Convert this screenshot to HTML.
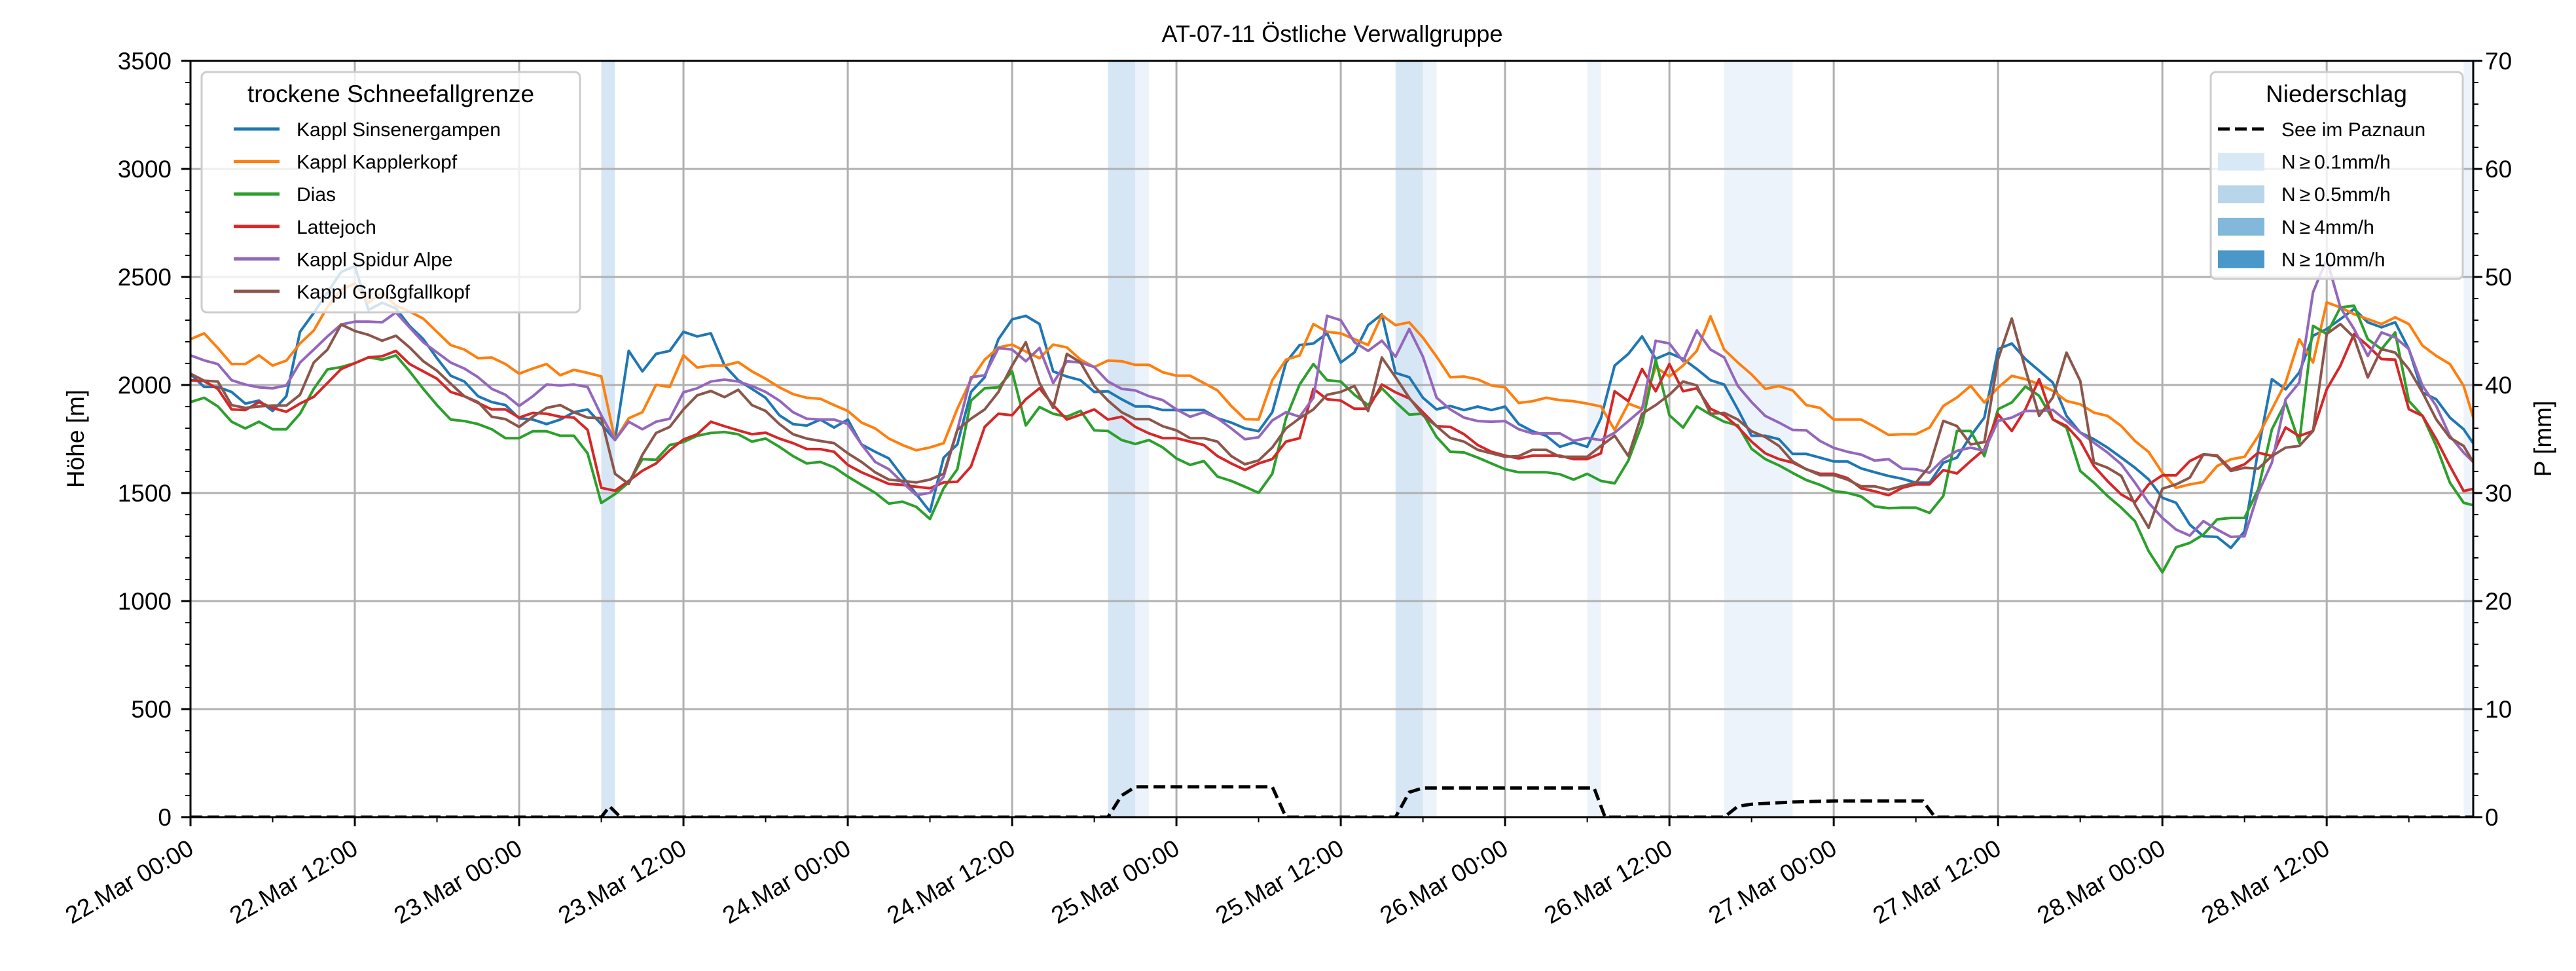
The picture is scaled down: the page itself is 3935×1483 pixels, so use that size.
<!DOCTYPE html>
<html><head><meta charset="utf-8">
<style>
html,body{margin:0;padding:0;background:#fff;}
svg{display:block;font-family:"Liberation Sans","DejaVu Sans",sans-serif;}
</style></head>
<body>
<svg id="chart" width="3935" height="1483" viewBox="0 0 3935 1483" xmlns="http://www.w3.org/2000/svg">
<defs><clipPath id="plotclip"><rect x="291" y="93" width="3487" height="1155"/></clipPath></defs>
<rect x="0" y="0" width="3935" height="1483" fill="#fff"/>
<text x="2035" y="64" font-size="36" text-anchor="middle">AT-07-11 Östliche Verwallgruppe</text>
<g id="bands" clip-path="url(#plotclip)"></g>
<g id="grid"></g>
<g id="series" clip-path="url(#plotclip)"></g>
<g id="axes"></g>
<g id="legends"></g>
</svg>
<script>
// ---- data ----
const seriesNames = ["Kappl Sinsenergampen","Kappl Kapplerkopf","Dias","Lattejoch","Kappl Spidur Alpe","Kappl Großgfallkopf"];
const seriesColors = ["#1f77b4","#ff7f0e","#2ca02c","#d62728","#9467bd","#8c564b"];
const sBlue = [2050,1991,1991,1968,1914,1928,1880,1948,2246,2334,2428,2523,2550,2347,2381,2354,2273,2212,2124,2043,2016,1948,1921,1907,1846,1840,1819,1840,1874,1887,1819,1745,2158,2063,2144,2158,2246,2225,2239,2090,2022,1982,
1941,1860,1819,1812,1840,1803,1840,1725,1691,1660,1576,1495,1414,1664,1725,1968,2036,2212,2304,2320,2282,2063,2039,2022,1968,1971,1934,1901,1901,1884,1884,1884,1884,1846,1826,1799,1786,1874,2104,2185,2192,2239,
2104,2151,2277,2327,2056,2036,1941,1887,1903,1884,1900,1884,1900,1819,1786,1765,1714,1734,1714,1846,2090,2144,2225,2121,2148,2121,2074,2022,2002,1887,1765,1765,1749,1681,1681,1664,1646,1646,1614,1596,1579,
1566,1548,1548,1640,1664,1764,1849,2166,2192,2120,2066,2011,1857,1780,1749,1710,1664,1617,1563,1478,1455,1354,1300,1297,1246,1323,1700,2027,1980,2058,2228,2259,2305,2352,2290,2267,2290,2166,1965,1934,1849,1795,1702];
const sOrange = [2212,2239,2171,2097,2097,2137,2090,2113,2192,2252,2361,2442,2469,2381,2428,2367,2340,2307,2246,2185,2164,2124,2127,2097,2052,2076,2097,2045,2070,2056,2040,1745,1846,1874,2001,1991,2137,2081,2090,2090,2106,2063,
2029,1989,1958,1941,1936,1907,1880,1826,1799,1752,1722,1698,1711,1731,1890,2025,2117,2174,2187,2155,2124,2187,2174,2117,2083,2113,2110,2093,2093,2059,2043,2043,2009,1975,1903,1842,1840,2022,2117,2137,2282,2246,
2239,2212,2185,2323,2277,2290,2219,2131,2036,2039,2026,1998,1989,1917,1925,1941,1930,1925,1914,1901,1792,1914,1890,2083,2039,2090,2158,2318,2164,2104,2049,1982,1995,1975,1907,1894,1840,1840,1840,1806,1769,
1772,1772,1803,1903,1942,1996,1919,1988,2042,2027,2004,1973,1926,1911,1872,1857,1810,1741,1690,1594,1524,1540,1551,1625,1656,1668,1764,1888,2011,2212,2104,2382,2359,2328,2305,2282,2313,2282,2182,2135,2097,1996,1787];
const sGreen = [1921,1941,1901,1830,1799,1830,1795,1795,1867,1982,2072,2083,2101,2128,2117,2137,2063,1982,1907,1840,1833,1819,1795,1754,1754,1786,1786,1765,1765,1684,1454,1495,1549,1657,1654,1722,1736,1765,1778,1782,1772,1738,
1752,1714,1671,1637,1644,1619,1576,1538,1501,1451,1460,1436,1380,1522,1610,1928,1985,1989,2063,1813,1898,1867,1853,1880,1790,1787,1745,1727,1745,1711,1660,1630,1648,1576,1556,1529,1501,1589,1846,2002,2097,2022,
2016,1955,1907,1985,1921,1863,1867,1759,1691,1688,1664,1637,1610,1596,1596,1596,1587,1562,1589,1556,1545,1650,1819,2117,1860,1803,1901,1863,1830,1813,1705,1657,1628,1593,1560,1538,1509,1501,1484,1438,1430,
1432,1432,1408,1486,1787,1787,1671,1888,1919,1993,1950,1841,1803,1602,1548,1486,1432,1370,1231,1133,1249,1269,1308,1378,1385,1385,1517,1795,1919,1733,2274,2236,2359,2367,2212,2166,2243,1926,1857,1718,1548,1455,1439];
const sRed = [2022,2018,1982,1887,1884,1921,1894,1876,1914,1945,2009,2074,2101,2128,2133,2158,2097,2063,2029,1968,1948,1917,1887,1887,1849,1871,1867,1853,1849,1792,1524,1511,1556,1603,1637,1698,1748,1772,1830,1809,1790,1772,
1779,1752,1731,1704,1703,1691,1630,1596,1569,1542,1538,1529,1522,1549,1552,1623,1806,1867,1860,1934,1985,1907,1840,1863,1887,1840,1853,1806,1776,1754,1754,1738,1722,1671,1637,1607,1637,1657,1738,1754,1982,1934,
1928,1890,1890,2002,1966,1938,1874,1809,1806,1772,1722,1691,1673,1660,1673,1673,1673,1657,1657,1684,1971,1925,2074,1971,2097,1971,1985,1890,1860,1806,1738,1684,1657,1641,1610,1589,1589,1569,1522,1508,1490,
1524,1540,1540,1606,1591,1648,1702,1865,1787,1888,2027,1841,1810,1741,1625,1555,1493,1458,1540,1582,1582,1648,1679,1674,1609,1633,1687,1671,1803,1764,1787,1980,2089,2236,2182,2120,2117,1888,1857,1749,1625,1509,1524];
const sPurple = [2137,2114,2097,2022,2002,1989,1985,1998,2104,2164,2225,2280,2293,2293,2290,2336,2266,2198,2151,2104,2076,2036,1982,1955,1903,1948,2002,1998,2002,1991,1860,1745,1830,1795,1830,1844,1966,1985,2016,2025,2016,1995,
1968,1928,1874,1844,1840,1840,1819,1725,1644,1610,1549,1490,1501,1576,1792,2036,2045,2171,2164,2110,2171,2009,2110,2104,2083,2016,1982,1975,1948,1930,1887,1853,1874,1846,1799,1749,1758,1836,1874,1853,1941,2320,
2300,2198,2158,2205,2131,2259,2131,1941,1887,1849,1833,1830,1833,1795,1776,1776,1776,1741,1755,1745,1779,1833,1887,2205,2192,2110,2252,2164,2128,1995,1921,1857,1826,1792,1790,1741,1709,1691,1678,1650,1657,
1613,1610,1594,1656,1695,1710,1695,1834,1849,1880,1880,1885,1834,1780,1733,1687,1633,1548,1455,1385,1331,1303,1370,1331,1297,1300,1501,1641,1934,2011,2429,2583,2359,2259,2135,2243,2220,2166,1996,1903,1764,1687,1625];
const sBrown = [2052,2020,2016,1907,1894,1901,1905,1905,1955,2104,2164,2280,2250,2232,2205,2228,2174,2110,2066,2006,1948,1921,1853,1842,1806,1853,1894,1907,1874,1849,1846,1589,1542,1677,1778,1806,1887,1952,1972,1944,1978,1907,
1880,1819,1772,1752,1741,1731,1684,1644,1596,1562,1556,1549,1562,1589,1792,1844,1887,1968,2090,2198,2009,1894,2144,2104,1995,1928,1874,1842,1842,1809,1790,1754,1754,1738,1671,1633,1651,1711,1799,1846,1887,1955,
1968,1995,1880,2127,2036,1941,1860,1809,1755,1738,1700,1684,1668,1671,1700,1700,1668,1668,1668,1718,1765,1671,1867,1907,1955,2016,1998,1867,1871,1840,1786,1759,1718,1646,1610,1583,1583,1562,1531,1531,1515,
1532,1548,1625,1834,1810,1725,1736,2120,2308,2073,1857,1942,2150,2019,1641,1617,1579,1447,1339,1520,1540,1571,1679,1671,1602,1617,1613,1671,1710,1718,1787,2236,2282,2220,2035,2166,2150,2073,1965,1841,1756,1718,1610];
const allSeries = [sBlue,sOrange,sGreen,sRed,sPurple,sBrown];
// precipitation (hours since 22.Mar 00:00, mm)
const precipHours = [0,30,30.6,31.4,67,68,69,79,80,88,89,90,102.5,103.3,112,113,114,117,120,126.5,127.4,167];
const precipValues = [0,0,1,0,0,2,2.8,2.8,0,0,2.3,2.7,2.7,0,0,1,1.2,1.4,1.5,1.5,0,0];
const bandStart = [30,67,69,88,90,102,112,166];
const bandEnd = [31,69,70,90,91,103,117,167];
const bandLevel = [1,1,0,1,0,0,0,0];
const xTickLabels = ["22.Mar 00:00","22.Mar 12:00","23.Mar 00:00","23.Mar 12:00","24.Mar 00:00","24.Mar 12:00","25.Mar 00:00","25.Mar 12:00","26.Mar 00:00","26.Mar 12:00","27.Mar 00:00","27.Mar 12:00","28.Mar 00:00","28.Mar 12:00"];
const yTicks = [0,500,1000,1500,2000,2500,3000,3500];
const y2Ticks = [0,10,20,30,40,50,60,70];

// ---- scales ----
const L=291,R=3778,T=93,B=1248, HMAX=166.7;
const xs = h => L + h*(R-L)/HMAX;
const ys = v => B - v*(B-T)/3500;
const ys2 = p => B - p*(B-T)/70;
const NS="http://www.w3.org/2000/svg";
function mk(tag, attrs, parent){const e=document.createElementNS(NS,tag);for(const k in attrs)e.setAttribute(k,attrs[k]);parent.appendChild(e);return e;}

// bands
const gb=document.getElementById('bands');
const bandColors=["#edf3fb","#d6e6f4"];
bandStart.forEach((s,i)=>{
  const r=mk('rect',{x:xs(s),y:T,width:xs(bandEnd[i])-xs(s),height:B-T,fill:bandColors[bandLevel[i]]},gb);
  
  
});
// grid
const gg=document.getElementById('grid');
xTickLabels.forEach((t,i)=>{const x=xs(i*12);const l=mk('line',{x1:x,x2:x,y1:T,y2:B,stroke:"#b0b0b0","stroke-width":3},gg);
  
  });
yTicks.forEach(v=>{const y=ys(v);const l=mk('line',{x1:L,x2:R,y1:y,y2:y,stroke:"#b0b0b0","stroke-width":3},gg);
  
  });
// series
const gs=document.getElementById('series');
allSeries.forEach((arr,si)=>{
  const d=arr.map((v,i)=>(i?'L':'M')+xs(i).toFixed(1)+','+ys(v).toFixed(1)).join('');
  const p=mk('path',{d:d,fill:'none',stroke:seriesColors[si],'stroke-width':4,'stroke-linejoin':'round'},gs);
  
  
});
const pd=precipHours.map((h,i)=>(i?'L':'M')+xs(h).toFixed(1)+','+ys2(precipValues[i]).toFixed(1)).join('');
const pl=mk('path',{d:pd,fill:'none',stroke:'#000','stroke-width':5,'stroke-dasharray':'18,8'},gs);



// axes
const ga=document.getElementById('axes');
mk('rect',{x:L,y:T,width:R-L,height:B-T,fill:'none',stroke:'#000','stroke-width':3},ga);
for(let v=0;v<=3500;v+=100){const y=ys(v);const major=v%500===0;mk('line',{x1:L,x2:L-(major?14:8),y1:y,y2:y,stroke:'#000','stroke-width':major?3:2},ga);}
yTicks.forEach(v=>{const t=mk('text',{x:262,y:ys(v)+13,'font-size':37,'text-anchor':'end'},ga);t.textContent=v;
  
  });
for(let p=0;p<=70;p+=2){const y=ys2(p);const major=p%10===0;mk('line',{x1:R,x2:R+(major?14:8),y1:y,y2:y,stroke:'#000','stroke-width':major?3:2},ga);}
y2Ticks.forEach(p=>{const t=mk('text',{x:3796,y:ys2(p)+13,'font-size':37},ga);t.textContent=p;
  
  });
for(let h=0;h<=HMAX;h+=6){const x=xs(h);const major=h%12===0;mk('line',{x1:x,x2:x,y1:B,y2:B+(major?14:8),stroke:'#000','stroke-width':major?3:2},ga);}
xTickLabels.forEach((lab,i)=>{const x=xs(i*12)-6,y=1280;const t=mk('text',{x:x,y:y,'font-size':37,'text-anchor':'end','dominant-baseline':'hanging',transform:`rotate(-30 ${x} ${y})`},ga);t.textContent=lab;
  
  });
const yl=mk('text',{x:0,y:0,'font-size':37,'text-anchor':'middle',transform:'translate(128 670) rotate(-90)'},ga);yl.textContent='Höhe [m]';


const yl2=mk('text',{x:0,y:0,'font-size':37,'text-anchor':'middle',transform:'translate(3897 670) rotate(-90)'},ga);yl2.textContent='P [mm]';



// legends
const gl=document.getElementById('legends');
const lb=mk('rect',{x:308,y:110,width:578,height:367,rx:8,fill:'rgba(255,255,255,0.8)',stroke:'#cccccc','stroke-width':3},gl);


const lt=mk('text',{x:597,y:156,'font-size':37,'text-anchor':'middle'},gl);lt.textContent='trockene Schneefallgrenze';


seriesNames.forEach((n,i)=>{const y=197+i*49.6;
  mk('line',{x1:357,x2:427,y1:y,y2:y,stroke:seriesColors[i],'stroke-width':5},gl);
  const t=mk('text',{x:453,y:y+11,'font-size':30},gl);t.textContent=n;
  
  });
const rb=mk('rect',{x:3377,y:110,width:385,height:316,rx:8,fill:'rgba(255,255,255,0.8)',stroke:'#cccccc','stroke-width':3},gl);


const rt=mk('text',{x:3569,y:156,'font-size':37,'text-anchor':'middle'},gl);rt.textContent='Niederschlag';


mk('line',{x1:3388,x2:3459,y1:197,y2:197,stroke:'#000','stroke-width':5,'stroke-dasharray':'18,8'},gl);
const pLabels=['See im Paznaun','N\u2009≥\u20090.1mm/h','N\u2009≥\u20090.5mm/h','N\u2009≥\u20094mm/h','N\u2009≥\u200910mm/h'];
const swatch=['#d9e8f5','#b9d5ea','#82b8d9','#4a98c9'];
pLabels.forEach((n,i)=>{const y=197+i*49.6;
  if(i>0) mk('rect',{x:3388,y:y-13,width:71,height:27,fill:swatch[i-1]},gl);
  const t=mk('text',{x:3485,y:y+11,'font-size':30},gl);t.textContent=n;
  
  });
</script>
</body></html>
